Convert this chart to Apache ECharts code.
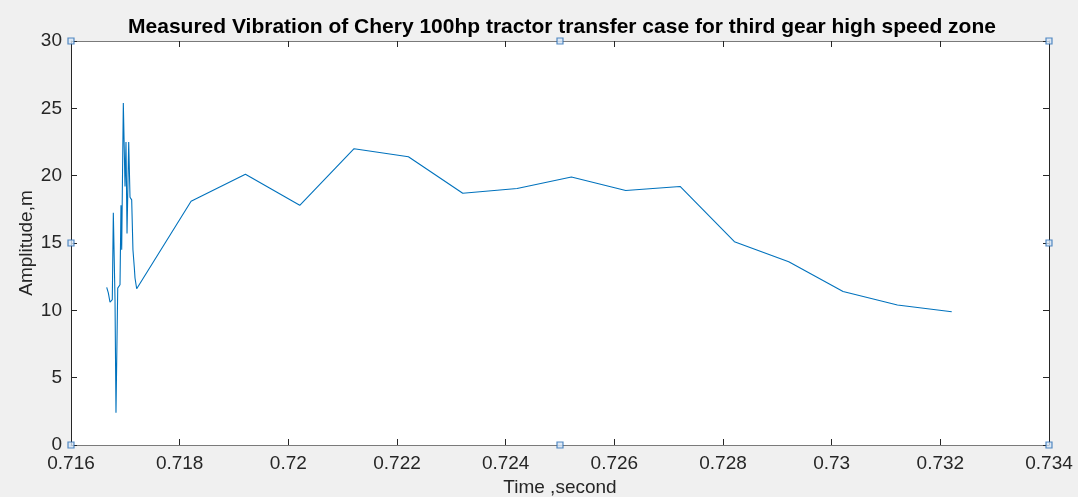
<!DOCTYPE html>
<html>
<head>
<meta charset="utf-8">
<script src="https://cdn.jsdelivr.net/npm/echarts@6/dist/echarts.min.js"></script>
<style>
  html, body { margin: 0; padding: 0; background: #f0f0f0; }
  #chart { width: 1078px; height: 497px; }
</style>
</head>
<body>
<div id="chart"></div>
<script>
// Time stamps (s) and measured amplitude (m) of the transfer case vibration
const timeSec = [
  0.716657, 0.716687, 0.716718, 0.716760, 0.716779, 0.716810, 0.716828,
  0.716860, 0.716902, 0.716920, 0.716933, 0.716963, 0.716994, 0.717012,
  0.717031, 0.717062, 0.717086, 0.717117, 0.717140, 0.717165, 0.717178,
  0.717209,
  0.71821, 0.71921, 0.72021, 0.72121, 0.72221, 0.72321, 0.72421, 0.72521,
  0.72621, 0.72721, 0.72821, 0.72921, 0.73021, 0.73121, 0.73221
];
const amplitude = [
  11.7, 11.3, 10.6, 10.8, 17.25, 10.8, 2.4,
  11.65, 11.9, 17.8, 14.5, 25.4, 19.2, 22.5,
  15.7, 22.5, 18.4, 18.2, 14.5, 13.2, 12.4,
  11.6,
  18.1, 20.1, 17.8, 22.0, 21.4, 18.7, 19.05, 19.9,
  18.9, 19.2, 15.1, 13.6, 11.4, 10.4, 9.9
];

// Axis ranges and tick labels
const xTicks = [0.716, 0.718, 0.72, 0.722, 0.724, 0.726, 0.728, 0.73, 0.732, 0.734];
const yTicks = [0, 5, 10, 15, 20, 25, 30];

// Selection handles on the axes box (corners and edge midpoints)
const handleX = [0.716, 0.725, 0.734, 0.716, 0.734, 0.716, 0.725, 0.734];
const handleY = [30, 30, 30, 15, 15, 0, 0, 0];

const titleText = 'Measured Vibration of Chery 100hp tractor transfer case for third gear high speed zone';
const xName = 'Time ,second';
const yName = 'Amplitude,m';

const chart = echarts.init(document.getElementById('chart'), null, { renderer: 'canvas' });

const fontFamily = '"Liberation Sans", Arial, Helvetica, sans-serif';
const xMin = xTicks[0], xMax = xTicks[xTicks.length - 1];
const yMin = yTicks[0], yMax = yTicks[yTicks.length - 1];

const tickStyle = { show: true, inside: true, length: 6, lineStyle: { color: '#262626', width: 1 } };

chart.setOption({
  backgroundColor: '#f0f0f0',
  animation: false,
  title: {
    text: titleText,
    left: 557,
    textAlign: 'center',
    top: 12,
    textStyle: { fontFamily, fontSize: 21, fontWeight: 'bold', color: '#000' }
  },
  grid: {
    left: 71, right: 29, top: 41, bottom: 52,
    containLabel: false,
    outerBoundsMode: 'none',
    show: true, backgroundColor: '#ffffff', borderWidth: 0
  },
  xAxis: [
    {
      type: 'value', min: xMin, max: xMax, interval: 0.002,
      position: 'bottom',
      axisLine: { show: true, onZero: false, lineStyle: { color: '#7a7a7a', width: 1 } },
      axisTick: tickStyle,
      splitLine: { show: false },
      axisLabel: {
        color: '#262626', fontFamily, fontSize: 19, margin: 9,
        formatter: v => String(parseFloat(v.toFixed(3)))
      },
      name: xName, nameLocation: 'middle', nameGap: 33,
      nameMoveOverlap: false,
      nameTextStyle: { color: '#262626', fontFamily, fontSize: 19 }
    },
    {
      type: 'value', min: xMin, max: xMax, interval: 0.002,
      position: 'top',
      axisLine: { show: true, onZero: false, lineStyle: { color: '#7a7a7a', width: 1 } },
      axisTick: tickStyle,
      splitLine: { show: false },
      axisLabel: { show: false }
    }
  ],
  yAxis: [
    {
      type: 'value', min: yMin, max: yMax, interval: 5,
      position: 'left',
      axisLine: { show: true, onZero: false, lineStyle: { color: '#262626', width: 1 } },
      axisTick: tickStyle,
      splitLine: { show: false },
      axisLabel: { color: '#262626', fontFamily, fontSize: 19, margin: 9 },
      name: yName, nameLocation: 'middle', nameGap: 35,
      nameMoveOverlap: false,
      nameTextStyle: { color: '#262626', fontFamily, fontSize: 19 }
    },
    {
      type: 'value', min: yMin, max: yMax, interval: 5,
      position: 'right',
      axisLine: { show: true, onZero: false, lineStyle: { color: '#262626', width: 1 } },
      axisTick: tickStyle,
      splitLine: { show: false },
      axisLabel: { show: false }
    }
  ],
  series: [
    {
      type: 'line',
      data: timeSec.map((t, i) => [t, amplitude[i]]),
      showSymbol: false,
      lineStyle: { color: '#0072BD', width: 1.1 },
      itemStyle: { color: '#0072BD' },
      z: 2
    },
    {
      type: 'scatter',
      data: handleX.map((x, i) => [x, handleY[i]]),
      symbol: 'rect',
      symbolSize: 6,
      itemStyle: { color: '#d8e6f5', borderColor: '#2c6fb5', borderWidth: 1.2 },
      clip: false,
      silent: true,
      z: 5
    }
  ]
});
</script>
</body>
</html>
